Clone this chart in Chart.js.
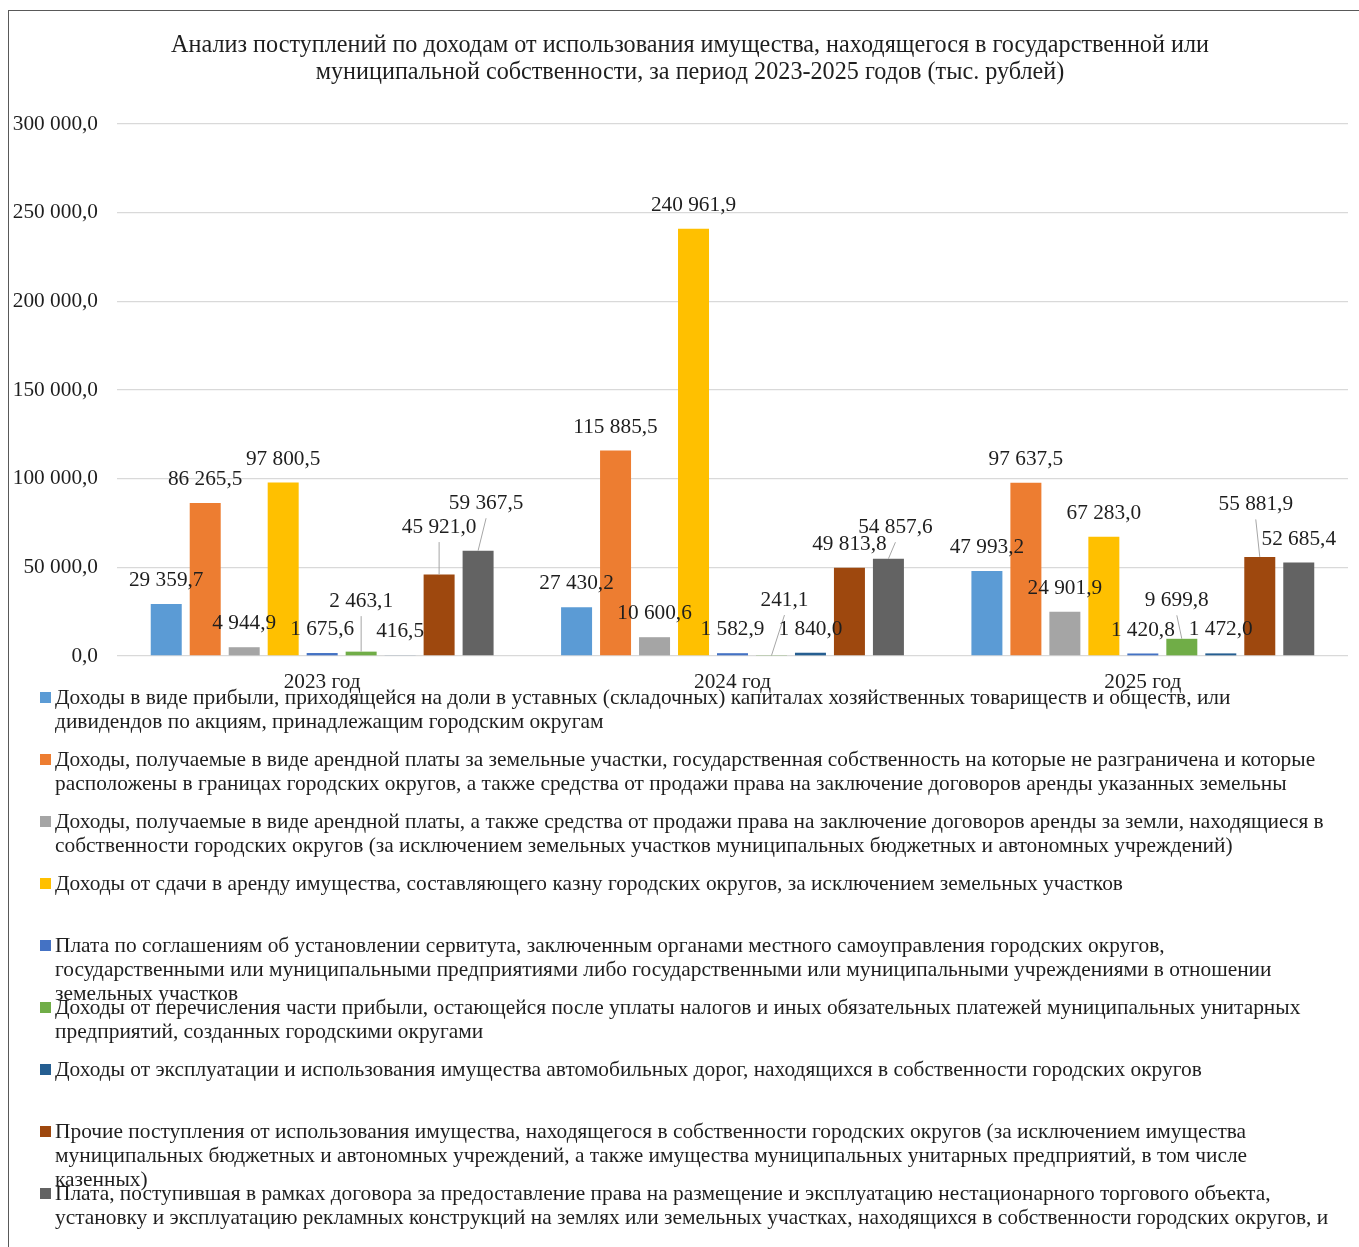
<!DOCTYPE html>
<html lang="ru">
<head>
<meta charset="utf-8">
<title>Анализ поступлений по доходам от использования имущества</title>
<script src="https://cdn.jsdelivr.net/npm/chart.js@4.4.1/dist/chart.umd.min.js"></script>
<style>
  html, body { margin: 0; padding: 0; background: #fff; }
  body {
    width: 1359px; height: 1247px; overflow: hidden; position: relative;
    font-family: 'Liberation Serif', 'Times New Roman', serif; color: #1e1e1e;
  }
  #frame {
    position: absolute; left: 8px; top: 10px; width: 1400px; height: 1300px;
    border-left: 1px solid #595959; border-top: 1px solid #595959;
  }
  #chartBox { position: absolute; left: 9px; top: 11px; width: 1350px; height: 690px; }
  #legend { position: absolute; left: 40px; top: 685px; margin: 0; padding: 0; list-style: none; }
  #legend li {
    position: relative; height: 62px; padding-left: 15px;
    font-size: 21.4px; line-height: 24px; white-space: nowrap;
  }
  #legend .box { position: absolute; left: 0; top: 7px; width: 11px; height: 11px; }
</style>
</head>
<body>
<div id="frame"></div>
<div id="chartBox"><canvas id="incomeChart"></canvas></div>
<ul id="legend"></ul>

<script>
// ── Данные ─────────────────────────────────────────────
const TITLE = [
  'Анализ поступлений по доходам от использования имущества, находящегося в государственной или',
  'муниципальной собственности, за период 2023-2025 годов (тыс. рублей)',
];

const categories = ['2023 год', '2024 год', '2025 год'];

const yTicks = [0, 50000, 100000, 150000, 200000, 250000, 300000];

// названия рядов — строки так, как они переносятся в легенде
const seriesNames = [
  ['Доходы в виде прибыли, приходящейся на доли в уставных (складочных) капиталах хозяйственных товариществ и обществ, или',
   'дивидендов по акциям, принадлежащим городским округам'],
  ['Доходы, получаемые в виде арендной платы за земельные участки, государственная собственность на которые не разграничена и которые',
   'расположены в границах городских округов, а также средства от продажи права на заключение договоров аренды указанных земельны'],
  ['Доходы, получаемые в виде арендной платы, а также средства от продажи права на заключение договоров аренды за земли, находящиеся в',
   'собственности городских округов (за исключением земельных участков муниципальных бюджетных и автономных учреждений)'],
  ['Доходы от сдачи в аренду имущества, составляющего казну городских округов, за исключением земельных участков'],
  ['Плата по соглашениям об установлении сервитута, заключенным органами местного самоуправления городских округов,',
   'государственными или муниципальными предприятиями либо государственными или муниципальными учреждениями в отношении',
   'земельных участков'],
  ['Доходы от перечисления части прибыли, остающейся после уплаты налогов и иных обязательных платежей муниципальных унитарных',
   'предприятий, созданных городскими округами'],
  ['Доходы от эксплуатации и использования имущества автомобильных дорог, находящихся в собственности городских округов'],
  ['Прочие поступления от использования имущества, находящегося в собственности городских округов (за исключением имущества',
   'муниципальных бюджетных и автономных учреждений, а также имущества муниципальных унитарных предприятий, в том числе',
   'казенных)'],
  ['Плата, поступившая в рамках договора за предоставление права на размещение и эксплуатацию нестационарного торгового объекта,',
   'установку и эксплуатацию рекламных конструкций на землях или земельных участках, находящихся в собственности городских округов, и'],
];

const dividends     = [29359.7, 27430.2, 47993.2];
const landRentCity  = [86265.5, 115885.5, 97637.5];
const landRentOwned = [4944.9, 10600.6, 24901.9];
const treasuryRent  = [97800.5, 240961.9, 67283.0];
const servitude     = [1675.6, 1582.9, 1420.8];
const unitaryProfit = [2463.1, 241.1, 9699.8];
const roads         = [416.5, 1840.0, 1472.0];
const otherIncome   = [45921.0, 49813.8, 55881.9];
const tradeObjects  = [59367.5, 54857.6, 52685.4];

const seriesValues = [
  dividends, landRentCity, landRentOwned, treasuryRent, servitude,
  unitaryProfit, roads, otherIncome, tradeObjects,
];

// ── Оформление ─────────────────────────────────────────
const COLORS = [
  '#5B9BD5', '#ED7D31', '#A5A5A5', '#FFC000', '#4472C4',
  '#70AD47', '#255E91', '#9E480E', '#636363',
];
const FONT = "'Liberation Serif', 'Times New Roman', serif";
const TEXT = '#1e1e1e';

// подписи, сдвинутые вручную (ряд, год) -> [dx, dy], с линией-выноской
const movedLabels = {
  '5,0': [0, -27], '7,0': [0, -24], '8,0': [8, -24],
  '5,1': [13, -32], '8,1': [7, -8],
  '5,2': [-5, -15], '7,2': [-4, -29],
};

const fmt = (v) => {
  const [int, dec] = Number(v).toFixed(1).split('.');
  return int.replace(/\B(?=(\d{3})+(?!\d))/g, ' ') + ',' + dec;
};

// заголовок в Excel центрирован по всей области диаграммы, а не по области построения
const titleShift = {
  id: 'titleShift',
  afterLayout(chart) {
    if (chart.titleBlock) chart.titleBlock.left += 23;
  },
};

// ── Подписи данных ─────────────────────────────────────
const dataLabels = {
  id: 'dataLabels',
  afterDatasetsDraw(chart) {
    const ctx = chart.ctx;
    ctx.save();
    ctx.font = `21.3px ${FONT}`;
    ctx.textAlign = 'center';
    ctx.textBaseline = 'middle';
    chart.data.datasets.forEach((ds, di) => {
      const meta = chart.getDatasetMeta(di);
      meta.data.forEach((bar, i) => {
        const shift = movedLabels[`${di},${i}`];
        const [dx, dy] = shift || [0, 0];
        const x = bar.x + dx;
        const y = bar.y - 23.5 + dy;
        if (shift) {
          ctx.strokeStyle = '#a6a6a6';
          ctx.lineWidth = 1;
          ctx.beginPath();
          ctx.moveTo(x, y + 15);
          ctx.lineTo(bar.x, bar.y);
          ctx.stroke();
        }
        ctx.fillStyle = TEXT;
        ctx.fillText(fmt(ds.data[i]), x, y);
      });
    });
    ctx.restore();
  },
};

// ── Легенда (HTML) ─────────────────────────────────────
const htmlLegend = {
  id: 'htmlLegend',
  afterUpdate(chart) {
    const ul = document.getElementById('legend');
    ul.innerHTML = '';
    chart.data.datasets.forEach((ds, di) => {
      const li = document.createElement('li');
      const box = document.createElement('span');
      box.className = 'box';
      box.style.background = ds.backgroundColor;
      li.appendChild(box);
      seriesNames[di].forEach((line, k) => {
        if (k) li.appendChild(document.createElement('br'));
        li.appendChild(document.createTextNode(line));
      });
      ul.appendChild(li);
    });
  },
};

new Chart(document.getElementById('incomeChart'), {
  type: 'bar',
  data: {
    labels: categories,
    datasets: seriesValues.map((values, i) => ({
      label: seriesNames[i].join(' '),
      data: values,
      backgroundColor: COLORS[i],
      borderWidth: 0,
      categoryPercentage: 0.855,
      barPercentage: 0.795,
    })),
  },
  options: {
    responsive: true,
    maintainAspectRatio: false,
    animation: false,
    layout: { padding: { left: 0, right: 11, top: 0, bottom: 0 } },
    plugins: {
      legend: { display: false },
      tooltip: { enabled: false },
      title: {
        display: true,
        text: TITLE,
        color: TEXT,
        font: { family: FONT, size: 24.2, weight: 'normal', lineHeight: '27px' },
        padding: { top: 21.5, bottom: 37.5 },
      },
    },
    scales: {
      x: {
        grid: { display: false },
        border: { display: false },
        ticks: { color: TEXT, font: { family: FONT, size: 21.3 }, padding: 6 },
        afterFit: (scale) => { scale.height = 45; },
      },
      y: {
        min: 0,
        max: 300000,
        afterBuildTicks: (scale) => { scale.ticks = yTicks.map((v) => ({ value: v })); },
        grid: { color: '#d9d9d9', lineWidth: 1.3, drawTicks: false },
        border: { display: false },
        ticks: { color: TEXT, font: { family: FONT, size: 21.3 }, padding: 19, callback: (v) => fmt(v) },
        afterFit: (scale) => { scale.width = 108; },
      },
    },
  },
  plugins: [titleShift, dataLabels, htmlLegend],
});
</script>
</body>
</html>
